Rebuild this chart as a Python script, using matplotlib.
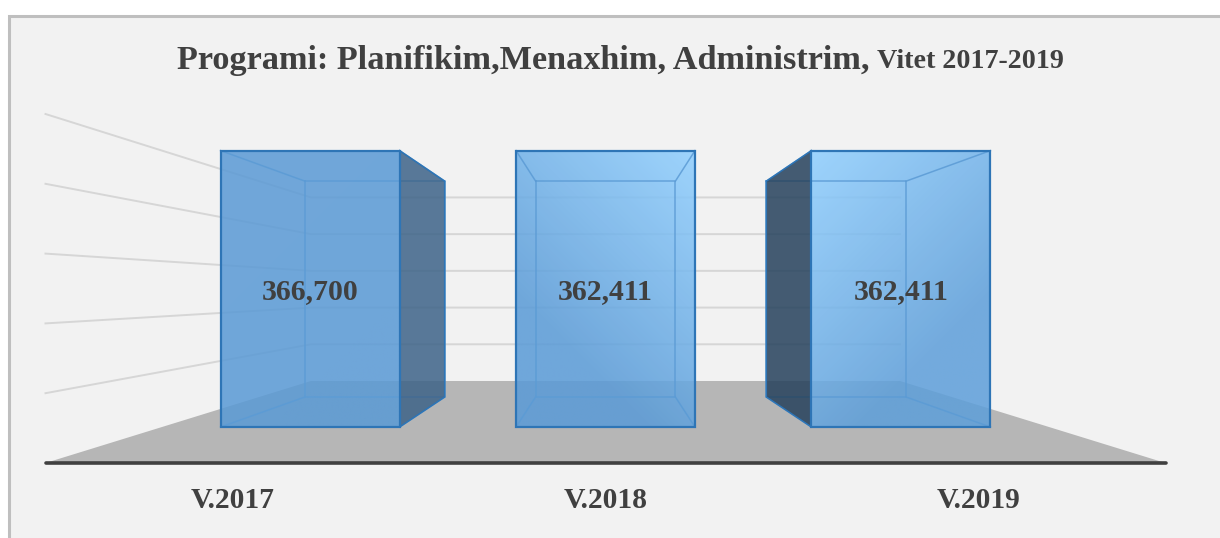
"""3D style bar chart: Programi Planifikim, Menaxhim, Administrim."""

import matplotlib

matplotlib.use("Agg")
import matplotlib.pyplot as plt
import numpy as np
from matplotlib.colors import to_rgb
from matplotlib.patches import Polygon, Rectangle

categories = ["V.2017", "V.2018", "V.2019"]
values = [366700, 362411, 362411]
value_labels = ["366,700", "362,411", "362,411"]
grid_ticks = [70000, 140000, 210000, 280000, 350000]
axis_max = 350000  # bars are cut off at the top of the axis

# perspective set up, in pixels of the 1220x538 picture
CX, VY, BASE_Y = 605.5, 290, 463
HALF_W = 560
PX_PER_VALUE = 349 / axis_max
S_BACK_WALL, S_BAR_BACK, S_BAR_FRONT = 0.526, 0.6185, 0.792
BAR_SPACING, BAR_HALF = 373, 113

GREY_TEXT = "#404040"
EDGE = "#2e75b6"
INNER = "#5b9bd5"
# light colour, dark colour, light corner (0 left / 1 right, 0 top), side face
bar_light = ["#5c9bd6", "#90cfff", "#90cfff"]
bar_dark = ["#5a9ad5", "#5a9bd7", "#5e9fda"]
bar_corner = [(0, 0), (1, 0), (0, 0)]
side_color = ["#3d6388", "#25415c", "#25415c"]


def project(x, value, s):
    """World x and value at depth s to picture pixels."""
    y_front = BASE_Y - value * PX_PER_VALUE
    return CX + x * s, VY + (y_front - VY) * s


fig = plt.figure(figsize=(12.2, 5.38), dpi=100, facecolor="white")
ax = fig.add_axes([0, 0, 1, 1])
ax.axis("off")

ax.add_patch(Rectangle((9, 16), 1300, 600, facecolor="#f2f2f2", edgecolor="#bfbfbf", lw=2.2, zorder=0))

# gridlines on left wall and back wall
for tick in grid_ticks:
    x0, y0 = project(-HALF_W, tick, 1)
    x1, y1 = project(-HALF_W, tick, S_BACK_WALL)
    x2, y2 = project(HALF_W, tick, S_BACK_WALL)
    ax.plot([x0, x1, x2], [y0, y1, y2], color="#d6d6d6", lw=1.4, zorder=1, solid_joinstyle="miter")

# floor
floor = [
    project(-HALF_W, 0, 1),
    project(-HALF_W, 0, S_BACK_WALL),
    project(HALF_W, 0, S_BACK_WALL),
    project(HALF_W, 0, 1),
]
ax.add_patch(Polygon(floor, closed=True, facecolor="#b6b6b6", edgecolor="none", zorder=2))
ax.plot([floor[0][0], floor[3][0]], [BASE_Y, BASE_Y], color=GREY_TEXT, lw=2.6, solid_capstyle="round", zorder=3)

for i, value in enumerate(values):
    center = (i - 1) * BAR_SPACING
    left, right = center - BAR_HALF, center + BAR_HALF
    top = min(value, axis_max)

    fl, ft = project(left, top, S_BAR_FRONT)
    fr, fb = project(right, 0, S_BAR_FRONT)
    bl, bt = project(left, top, S_BAR_BACK)
    br, bb = project(right, 0, S_BAR_BACK)

    # front face with gradient
    front = Polygon([(fl, ft), (fr, ft), (fr, fb), (fl, fb)], closed=True, facecolor="none", edgecolor="none", zorder=4)
    ax.add_patch(front)
    u, v = np.meshgrid(np.linspace(0, 1, 120), np.linspace(0, 1, 160))
    cu, cv = bar_corner[i]
    t = np.clip((np.abs(u - cu) * 0.55 + np.abs(v - cv) * 0.85), 0, 1)[..., None]
    rgb = np.array(to_rgb(bar_light[i])) * (1 - t) + np.array(to_rgb(bar_dark[i])) * t
    rgba = np.dstack([rgb, np.full(t.shape[:2], 0.86)])
    im = ax.imshow(rgba, extent=(fl, fr, fb, ft), origin="upper", aspect="auto", zorder=4, interpolation="bilinear")
    im.set_clip_path(front)

    # inner edges seen through the bar
    ax.plot([bl, br, br, bl, bl], [bt, bt, bb, bb, bt], color=INNER, lw=1.1, alpha=0.85, zorder=5)
    for cx_f, cx_b in [(fl, bl), (fr, br)]:
        ax.plot([cx_f, cx_b], [ft, bt], color=INNER, lw=1.1, alpha=0.85, zorder=5)
        ax.plot([cx_f, cx_b], [fb, bb], color=INNER, lw=1.1, alpha=0.85, zorder=5)

    # dark side face, only on the outer bars
    if i != 1:
        sf, sb = (fr, br) if center < 0 else (fl, bl)
        side = [(sf, ft), (sb, bt), (sb, bb), (sf, fb)]
        ax.add_patch(Polygon(side, closed=True, facecolor=side_color[i], edgecolor="none", alpha=0.85, zorder=6))
        ax.plot([sf, sb, sb, sf], [ft, bt, bb, fb], color=EDGE, lw=1.1, zorder=6)

    ax.add_patch(Rectangle((fl, ft), fr - fl, fb - ft, facecolor="none", edgecolor=EDGE, lw=1.6, zorder=7))

    ax.text((fl + fr) / 2, 292, value_labels[i], ha="center", va="center", family="Liberation Serif",
            weight="bold", fontsize=21.4, color=GREY_TEXT, zorder=8)
    ax.text(project(center, 0, 1)[0], 501, categories[i], ha="center", va="center", family="Liberation Serif",
            weight="bold", fontsize=21.3, color=GREY_TEXT, zorder=8)

ax.text(177, 60, "Programi: Planifikim,Menaxhim, Administrim,", ha="left", va="center", family="Liberation Serif",
        weight="bold", fontsize=24.65, color=GREY_TEXT, zorder=8)
ax.text(877, 61, "Vitet 2017-2019", ha="left", va="center", family="Liberation Serif",
        weight="bold", fontsize=20.2, color=GREY_TEXT, zorder=8)

ax.set_xlim(0, 1220)
ax.set_ylim(538, 0)

fig.savefig("out.png", dpi=100)
